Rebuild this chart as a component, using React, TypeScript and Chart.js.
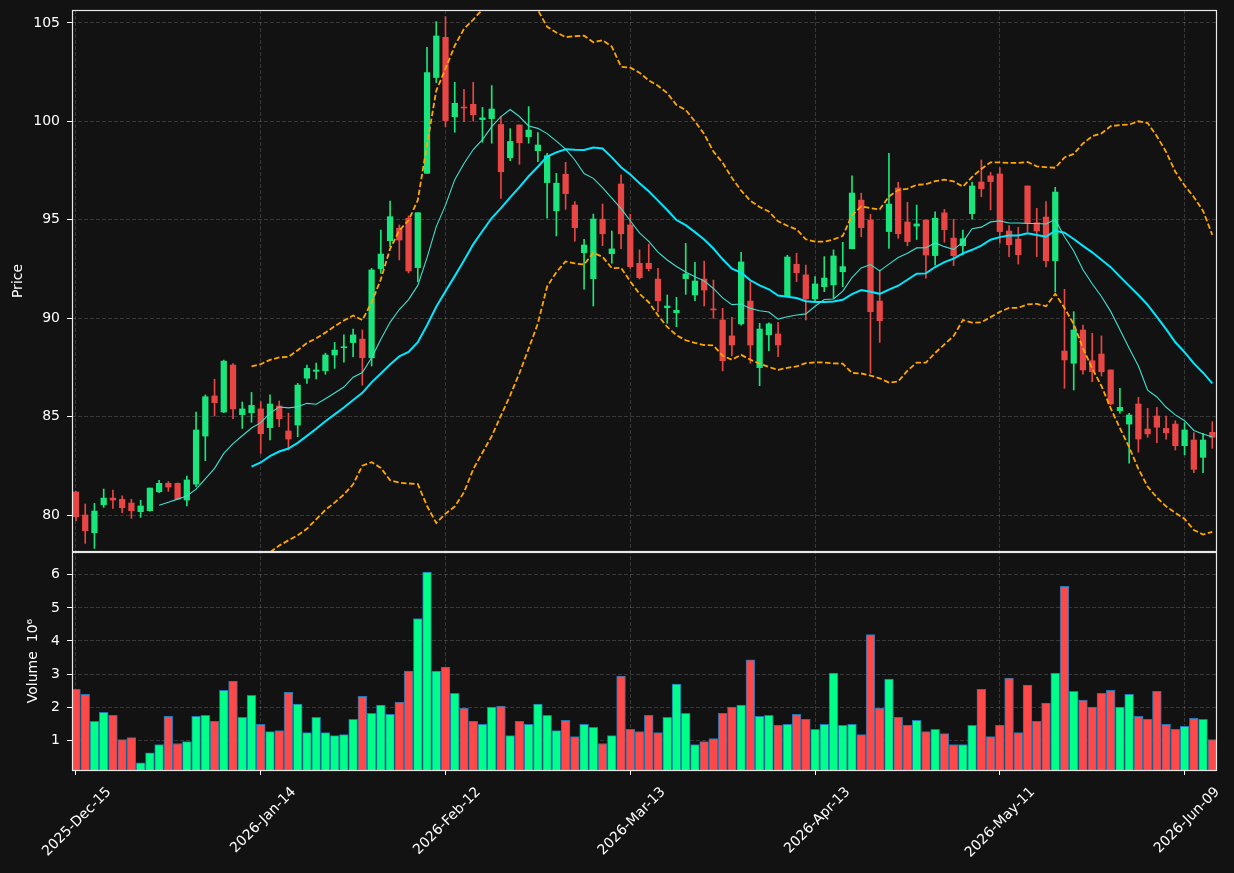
import React, { useEffect, useRef } from 'react';
import { Chart, registerables } from 'chart.js';

Chart.register(...registerables);

// ---- data ----
const tickPositions = [0, 20, 40, 60, 80, 100, 120];
const tickLabels = ['2025-Dec-15', '2026-Jan-14', '2026-Feb-12', '2026-Mar-13', '2026-Apr-13', '2026-May-11', '2026-Jun-09'];

const opens = [81.17, 80.0, 79.1, 80.52, 80.86, 80.8, 80.61, 80.17, 80.22, 81.18,
  81.61, 81.61, 80.76, 81.57, 84.01, 86.05, 85.23, 87.62, 85.1, 85.2,
  85.39, 84.44, 85.54, 84.27, 84.57, 86.95, 87.3, 87.33, 88.13, 88.5,
  88.76, 88.94, 87.99, 92.52, 93.94, 94.57, 95.08, 92.57, 97.36, 102.23,
  104.27, 100.24, 100.73, 100.87, 100.09, 100.14, 99.84, 98.15, 99.82, 99.22,
  98.51, 96.89, 95.46, 97.31, 95.75, 93.33, 92.01, 95.03, 93.28, 96.82,
  94.74, 92.79, 92.79, 91.99, 90.53, 90.28, 92.01, 91.18, 91.99, 90.47,
  89.91, 89.1, 89.71, 90.87, 87.49, 89.16, 89.2, 91.14, 92.74, 92.2,
  90.98, 91.6, 91.69, 92.36, 93.53, 96.0, 94.99, 90.87, 94.4, 96.62,
  94.89, 94.68, 94.99, 93.18, 95.35, 94.07, 93.68, 95.31, 96.92, 97.23,
  97.33, 94.43, 94.02, 96.72, 94.85, 95.14, 92.92, 88.33, 87.71, 89.4,
  87.84, 88.18, 87.37, 85.3, 84.62, 85.64, 84.37, 85.03, 84.4, 84.62,
  83.52, 83.81, 82.93, 84.2];

const highs = [81.2, 80.56, 80.59, 81.32, 81.27, 80.97, 80.8, 80.75, 81.37, 81.76,
  81.7, 81.63, 81.98, 85.23, 86.1, 86.9, 87.87, 87.7, 85.74, 86.23,
  85.76, 86.1, 85.79, 85.18, 86.69, 87.62, 87.72, 88.22, 88.77, 89.15,
  89.45, 89.4, 92.53, 94.48, 95.95, 94.74, 95.2, 95.36, 103.76, 105.07,
  105.32, 101.99, 101.63, 101.99, 100.71, 101.82, 100.24, 99.63, 99.82, 100.75,
  99.43, 98.38, 97.36, 97.92, 95.92, 94.01, 95.29, 95.8, 94.43, 97.28,
  95.28, 93.47, 93.76, 92.54, 91.18, 91.06, 93.8, 92.84, 92.9, 91.94,
  90.5, 90.05, 93.35, 91.86, 89.74, 89.77, 89.79, 93.2, 93.3, 92.7,
  92.11, 93.13, 93.47, 93.86, 97.23, 96.35, 95.28, 92.45, 98.38, 96.91,
  95.89, 95.75, 94.99, 95.4, 95.53, 95.03, 94.48, 96.91, 98.04, 97.41,
  97.65, 94.7, 94.62, 96.72, 95.58, 95.92, 96.65, 91.47, 90.33, 89.65,
  89.23, 89.1, 87.37, 86.44, 85.17, 85.98, 85.42, 85.47, 85.03, 84.79,
  84.69, 84.18, 84.15, 84.74];

const lows = [79.71, 78.56, 78.3, 80.39, 80.34, 80.12, 79.83, 79.88, 80.2, 81.13,
  81.2, 80.78, 80.46, 81.44, 82.76, 85.03, 85.2, 84.9, 84.4, 84.71,
  83.13, 83.81, 84.49, 83.3, 83.98, 86.69, 86.91, 87.15, 87.45, 87.76,
  88.05, 86.6, 87.57, 92.28, 93.63, 92.96, 92.3, 91.85, 97.36, 101.97,
  99.73, 99.45, 99.98, 100.02, 98.94, 98.89, 96.09, 98.0, 97.82, 98.89,
  97.95, 95.08, 94.18, 95.53, 93.92, 91.47, 90.62, 93.68, 92.79, 93.53,
  92.54, 91.99, 92.4, 90.33, 89.74, 89.57, 91.21, 90.89, 90.62, 89.99,
  87.32, 88.08, 89.65, 87.71, 86.57, 88.35, 88.04, 91.14, 91.86, 89.91,
  90.84, 91.35, 91.01, 91.6, 93.53, 94.14, 87.2, 88.77, 93.55, 94.06,
  93.68, 94.0, 92.03, 92.7, 93.86, 92.67, 93.21, 95.03, 96.17, 95.5,
  93.81, 93.13, 92.75, 94.4, 93.13, 92.61, 91.35, 86.44, 86.35, 87.15,
  86.77, 87.06, 85.6, 85.17, 82.63, 83.19, 83.95, 83.67, 83.85, 83.3,
  83.05, 82.15, 82.15, 83.39];

const closes = [79.91, 79.2, 80.2, 80.86, 80.76, 80.37, 80.22, 80.46, 81.37, 81.61,
  81.42, 80.8, 81.78, 84.32, 86.01, 85.71, 87.82, 85.39, 85.39, 85.57,
  84.13, 85.64, 84.89, 83.86, 86.6, 87.45, 87.37, 88.13, 88.38, 88.55,
  89.15, 87.99, 92.45, 93.26, 95.16, 93.97, 92.4, 95.36, 102.48, 104.34,
  100.04, 100.92, 100.68, 100.34, 100.18, 100.63, 97.44, 98.98, 98.92, 99.56,
  98.8, 98.26, 96.86, 96.33, 94.6, 93.72, 95.04, 94.29, 93.52, 94.29,
  92.62, 92.06, 92.52, 90.89, 90.62, 90.4, 92.25, 91.89, 91.43, 90.42,
  87.84, 88.64, 92.86, 88.64, 89.45, 89.71, 88.64, 93.11, 92.31, 90.98,
  91.74, 92.04, 93.16, 92.62, 96.36, 94.6, 90.33, 89.87, 95.8, 94.29,
  93.89, 94.79, 93.21, 95.08, 94.5, 93.18, 94.04, 96.72, 96.58, 96.94,
  94.4, 93.73, 93.23, 94.85, 94.43, 92.92, 96.41, 87.88, 89.4, 87.37,
  87.28, 87.28, 85.64, 85.47, 85.08, 83.86, 84.12, 84.46, 84.18, 83.52,
  84.32, 82.32, 83.81, 83.95];

// volume in millions (10^6)
const volumes = [2.54, 2.39, 1.57, 1.84, 1.75, 1.02, 1.08, 0.32, 0.62, 0.87,
  1.72, 0.90, 0.96, 1.72, 1.75, 1.57, 2.51, 2.79, 1.69, 2.36,
  1.48, 1.26, 1.29, 2.45, 2.09, 1.23, 1.69, 1.23, 1.14, 1.17,
  1.63, 2.33, 1.81, 2.06, 1.78, 2.15, 3.09, 4.68, 6.08, 3.09,
  3.21, 2.42, 1.97, 1.57, 1.48, 2.0, 2.03, 1.14, 1.57, 1.48,
  2.09, 1.75, 1.29, 1.60, 1.11, 1.48, 1.39, 0.90, 1.14, 2.94,
  1.33, 1.26, 1.75, 1.23, 1.69, 2.70, 1.81, 0.87, 0.96, 1.05,
  1.81, 2.0, 2.06, 3.43, 1.72, 1.75, 1.45, 1.48, 1.78, 1.63,
  1.33, 1.48, 3.03, 1.45, 1.48, 1.17, 4.19, 1.97, 2.85, 1.69,
  1.45, 1.60, 1.26, 1.33, 1.20, 0.87, 0.87, 1.45, 2.54, 1.11,
  1.45, 2.88, 1.23, 2.67, 1.57, 2.12, 3.03, 5.65, 2.48, 2.21,
  2.0, 2.42, 2.51, 2.0, 2.39, 1.72, 1.63, 2.48, 1.48, 1.33,
  1.42, 1.66, 1.63, 1.02];

const priceTicks = [80, 85, 90, 95, 100, 105];
const volumeTicks = [1, 2, 3, 4, 5, 6];

// indicator settings (derived from the closes, like the original chart)
const mavShort = 10;
const mavLong = 20;
const bandSigma = 2;

// ---- styles ----
const BG = '#121212';
const FG = '#ffffff';
const GRID = 'rgba(255,255,255,0.16)';
const CANDLE_UP = '#1ae47c';
const CANDLE_DOWN = '#e84545';
const VOL_UP = '#00ff88';
const VOL_DOWN = '#ff4848';
const VOL_EDGE = '#1f77b4';
const FONT = { family: 'DejaVu Sans', size: 14 };

function rollingMean(src: number[], w: number) {
  const out: { x: number; y: number }[] = [];
  for (let i = w - 1; i < src.length; i++) {
    let s = 0;
    for (let k = i - w + 1; k <= i; k++) s += src[k];
    out.push({ x: i, y: s / w });
  }
  return out;
}

function rollingBand(src: number[], w: number, k: number) {
  const out: { x: number; y: number }[] = [];
  for (let i = w - 1; i < src.length; i++) {
    let s = 0;
    for (let j = i - w + 1; j <= i; j++) s += src[j];
    const m = s / w;
    let v = 0;
    for (let j = i - w + 1; j <= i; j++) v += (src[j] - m) * (src[j] - m);
    out.push({ x: i, y: m + k * Math.sqrt(v / w) });
  }
  return out;
}

const isUp = closes.map((c, i) => c >= opens[i]);

const bgPlugin = {
  id: 'bgFill',
  beforeDraw(chart: any) {
    const { ctx, width, height } = chart;
    ctx.save();
    ctx.fillStyle = BG;
    ctx.fillRect(0, 0, width, height);
    ctx.restore();
  },
};

const panelClipPlugin = {
  id: 'panelClip',
  beforeDatasetDraw(chart: any, args: any) {
    const ys = args.meta.yScale;
    const ca = chart.chartArea;
    const ctx = chart.ctx;
    ctx.save();
    ctx.beginPath();
    ctx.rect(ca.left, ys.top, ca.right - ca.left, ys.bottom - ys.top);
    ctx.clip();
  },
  afterDatasetDraw(chart: any) {
    chart.ctx.restore();
  },
};

const framePlugin = {
  id: 'panelFrame',
  afterDraw(chart: any) {
    const { ctx, chartArea } = chart;
    const p = chart.scales.y;
    const v = chart.scales.yVol;
    ctx.save();
    ctx.strokeStyle = '#e8e8e8';
    ctx.lineWidth = 1.2;
    const l = Math.round(chartArea.left) + 0.5;
    const r = Math.round(chartArea.right) + 0.5;
    ctx.strokeRect(l, Math.round(p.top) + 0.5, r - l, Math.round(p.bottom) - Math.round(p.top) - 1);
    ctx.strokeRect(l, Math.round(v.top) + 0.5, r - l, Math.round(v.bottom) - Math.round(v.top));
    ctx.restore();
  },
};

const noPad = (s: any) => {
  s.paddingTop = 0;
  s.paddingBottom = 0;
};

export default function App() {
  const ref = useRef<HTMLCanvasElement | null>(null);

  useEffect(() => {
    document.body.style.margin = '0';
    document.body.style.background = BG;
    const canvas = ref.current;
    if (!canvas) return;

    const wickData = highs.map((h, i) => ({ x: i, y: [lows[i], h] }));
    const bodyData = opens.map((o, i) => ({ x: i, y: [o, closes[i]] }));
    const volData = volumes.map((v, i) => ({ x: i, y: v }));
    const candleColors = isUp.map((u) => (u ? CANDLE_UP : CANDLE_DOWN));
    const volColors = isUp.map((u) => (u ? VOL_UP : VOL_DOWN));

    const chart = new Chart(canvas, {
      type: 'bar',
      data: {
        datasets: [
          {
            type: 'line',
            label: 'MA10',
            data: rollingMean(closes, mavShort),
            borderColor: '#40e0d0',
            borderWidth: 1.1,
            pointRadius: 0,
            tension: 0,
            yAxisID: 'y',
            order: 0,
          } as any,
          {
            type: 'line',
            label: 'MA20',
            data: rollingMean(closes, mavLong),
            borderColor: '#00e8ff',
            borderWidth: 2,
            pointRadius: 0,
            tension: 0,
            yAxisID: 'y',
            order: 0,
          },
          {
            type: 'line',
            label: 'BB upper',
            data: rollingBand(closes, mavLong, bandSigma),
            borderColor: '#ffa500',
            borderWidth: 1.8,
            borderDash: [5.5, 2.5],
            pointRadius: 0,
            tension: 0,
            yAxisID: 'y',
            order: 0,
          },
          {
            type: 'line',
            label: 'BB lower',
            data: rollingBand(closes, mavLong, -bandSigma),
            borderColor: '#ffa500',
            borderWidth: 1.8,
            borderDash: [5.5, 2.5],
            pointRadius: 0,
            tension: 0,
            yAxisID: 'y',
            order: 0,
          },
          {
            type: 'bar',
            label: 'body',
            data: bodyData,
            backgroundColor: candleColors,
            borderWidth: 0,
            barThickness: 5.6,
            minBarLength: 1,
            grouped: false,
            yAxisID: 'y',
            order: 1,
          },
          {
            type: 'bar',
            label: 'wick',
            data: wickData,
            backgroundColor: candleColors,
            borderWidth: 0,
            barThickness: 1,
            grouped: false,
            yAxisID: 'y',
            order: 2,
          },
          {
            type: 'bar',
            label: 'volume',
            data: volData,
            backgroundColor: volColors,
            borderColor: VOL_EDGE,
            borderWidth: 1,
            barThickness: 8.8,
            grouped: false,
            yAxisID: 'yVol',
            order: 3,
          },
        ] as any,
      },
      options: {
        responsive: false,
        animation: false,
        devicePixelRatio: 1,
        layout: { padding: { top: 10, right: 18, bottom: 0, left: 0 } },
        plugins: {
          legend: { display: false },
          tooltip: { enabled: false },
        },
        scales: {
          x: {
            type: 'linear',
            position: 'bottom',
            offset: false,
            min: -0.43,
            max: 123.4,
            afterBuildTicks: (s: any) => {
              s.ticks = tickPositions.map((v) => ({ value: v }));
            },
            afterFit: (s: any) => {
              s.height = 103;
              s.paddingLeft = 0;
              s.paddingRight = 0;
            },
            ticks: {
              autoSkip: false,
              minRotation: 45,
              maxRotation: 45,
              color: FG,
              font: FONT,
              padding: 9,
              labelOffset: 33,
              callback: (_v: any, idx: number) => tickLabels[idx],
            },
            grid: {
              offset: false,
              color: GRID,
              drawTicks: true,
              tickLength: 5,
              tickColor: FG,
              tickWidth: 1,
              tickBorderDash: [],
            },
            border: { display: false, dash: [4, 2] },
          },
          yVol: {
            type: 'linear',
            position: 'left',
            stack: 'panels',
            stackWeight: 218,
            min: 0.1,
            max: 6.69,
            afterBuildTicks: (s: any) => {
              s.ticks = volumeTicks.map((v) => ({ value: v }));
            },
            afterFit: (s: any) => {
              s.width = 72;
              noPad(s);
            },
            ticks: { color: FG, font: FONT, padding: 7 },
            grid: {
              color: GRID,
              tickLength: 5,
              tickColor: FG,
              tickWidth: 1,
              tickBorderDash: [],
            },
            border: { display: false, dash: [4, 2] },
            title: {
              display: true,
              text: 'Volume  10⁶',
              color: FG,
              font: FONT,
              padding: { top: 25, bottom: 0 },
            },
          },
          y: {
            type: 'linear',
            position: 'left',
            stack: 'panels',
            stackWeight: 542,
            min: 78.12,
            max: 105.66,
            afterBuildTicks: (s: any) => {
              s.ticks = priceTicks.map((v) => ({ value: v }));
            },
            afterFit: (s: any) => {
              s.width = 72;
              noPad(s);
            },
            ticks: { color: FG, font: FONT, padding: 7 },
            grid: {
              color: GRID,
              tickLength: 5,
              tickColor: FG,
              tickWidth: 1,
              tickBorderDash: [],
            },
            border: { display: false, dash: [4, 2] },
            title: {
              display: true,
              text: 'Price',
              color: FG,
              font: FONT,
              padding: { top: 9.6, bottom: 0 },
            },
          },
        } as any,
      },
      plugins: [bgPlugin, panelClipPlugin, framePlugin],
    });

    return () => chart.destroy();
  }, []);

  return (
    <div style={{ width: 1234, height: 873, background: BG }}>
      <canvas ref={ref} width={1234} height={873} style={{ display: 'block', width: 1234, height: 873 }} />
    </div>
  );
}
